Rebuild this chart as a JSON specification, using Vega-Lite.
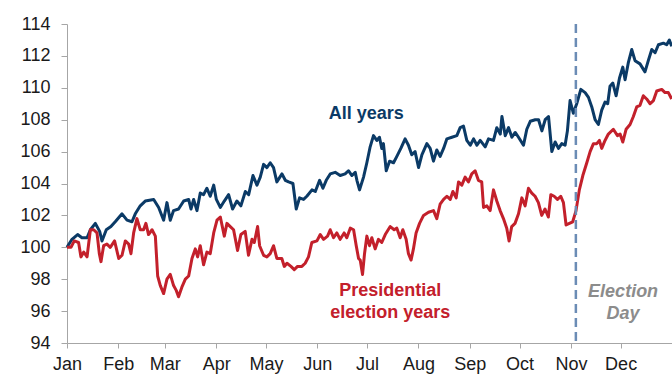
{
  "$schema": "https://vega.github.io/schema/vega-lite/v6.json",
  "width": 605,
  "height": 319,
  "autosize": {"type": "none"},
  "padding": {"left": 67, "top": 24, "right": 0, "bottom": 34},
  "background": "white",
  "config": {
    "view": {"stroke": null},
    "font": "Liberation Sans"
  },
  "datasets": {
    "allYears": [
      {"day":0,"value":100.0},{"day":3.0,"value":100.5},{"day":6.4,"value":100.8},{"day":9.0,"value":100.6},{"day":12.1,"value":100.6},{"day":14.1,"value":101.1},{"day":17.1,"value":101.5},{"day":19.7,"value":101.0},{"day":21.1,"value":100.4},{"day":23.7,"value":101.1},{"day":26.5,"value":101.3},{"day":29.1,"value":101.6},{"day":33.2,"value":102.1},{"day":36.2,"value":101.7},{"day":39.2,"value":101.6},{"day":41.2,"value":102.1},{"day":44.2,"value":102.6},{"day":47.2,"value":102.9},{"day":52.3,"value":103.0},{"day":55.3,"value":102.5},{"day":58.3,"value":101.7},{"day":60.3,"value":102.8},{"day":62.3,"value":101.7},{"day":64.3,"value":102.3},{"day":67.3,"value":102.4},{"day":70.4,"value":102.9},{"day":73.4,"value":103.0},{"day":74.8,"value":102.4},{"day":76.4,"value":103.0},{"day":78.4,"value":102.3},{"day":80.4,"value":103.4},{"day":82.4,"value":103.3},{"day":84.4,"value":103.7},{"day":86.4,"value":103.2},{"day":88.5,"value":103.9},{"day":90.1,"value":103.0},{"day":92.5,"value":102.5},{"day":94.9,"value":102.9},{"day":97.5,"value":103.3},{"day":99.9,"value":102.4},{"day":102.5,"value":102.9},{"day":104.9,"value":102.6},{"day":107.6,"value":103.5},{"day":109.6,"value":103.3},{"day":112.2,"value":104.5},{"day":114.6,"value":103.9},{"day":116.6,"value":104.4},{"day":118.6,"value":105.2},{"day":120.6,"value":105.0},{"day":122.6,"value":105.3},{"day":124.6,"value":105.0},{"day":126.6,"value":104.1},{"day":129.7,"value":104.6},{"day":131.7,"value":104.2},{"day":133.7,"value":104.1},{"day":136.3,"value":104.0},{"day":138.3,"value":102.4},{"day":140.3,"value":103.1},{"day":142.7,"value":103.0},{"day":144.7,"value":103.2},{"day":147.8,"value":103.6},{"day":149.8,"value":103.5},{"day":152.4,"value":104.2},{"day":154.4,"value":103.7},{"day":156.4,"value":104.2},{"day":158.8,"value":104.6},{"day":161.8,"value":104.7},{"day":164.8,"value":104.5},{"day":167.8,"value":104.6},{"day":169.8,"value":104.8},{"day":171.9,"value":104.5},{"day":173.9,"value":104.7},{"day":174.9,"value":104.2},{"day":176.5,"value":103.6},{"day":178.9,"value":104.4},{"day":180.9,"value":105.3},{"day":182.9,"value":106.3},{"day":184.9,"value":107.0},{"day":186.9,"value":106.7},{"day":188.5,"value":106.9},{"day":189.9,"value":106.2},{"day":190.9,"value":106.5},{"day":192.6,"value":104.8},{"day":194.6,"value":105.4},{"day":197.0,"value":105.3},{"day":199.0,"value":105.7},{"day":201.4,"value":106.2},{"day":204.0,"value":106.8},{"day":206.0,"value":106.4},{"day":208.0,"value":105.8},{"day":210.0,"value":106.0},{"day":212.1,"value":105.0},{"day":214.1,"value":105.8},{"day":217.1,"value":106.5},{"day":219.1,"value":106.2},{"day":221.1,"value":105.4},{"day":223.1,"value":106.1},{"day":225.1,"value":105.7},{"day":227.2,"value":106.2},{"day":229.2,"value":106.8},{"day":232.2,"value":106.9},{"day":235.2,"value":107.0},{"day":237.2,"value":107.5},{"day":239.2,"value":107.6},{"day":241.2,"value":106.7},{"day":243.3,"value":106.4},{"day":245.3,"value":106.8},{"day":247.3,"value":106.4},{"day":249.3,"value":106.7},{"day":252.3,"value":106.3},{"day":254.3,"value":106.8},{"day":257.3,"value":106.7},{"day":259.3,"value":107.5},{"day":261.4,"value":107.1},{"day":262.4,"value":108.2},{"day":264.4,"value":107.0},{"day":266.4,"value":107.5},{"day":268.4,"value":106.9},{"day":270.4,"value":107.2},{"day":272.4,"value":106.9},{"day":275.4,"value":106.4},{"day":277.4,"value":107.4},{"day":279.5,"value":107.9},{"day":282.5,"value":108.0},{"day":284.5,"value":108.0},{"day":286.5,"value":107.3},{"day":288.5,"value":108.0},{"day":290.5,"value":108.2},{"day":292.5,"value":106.0},{"day":294.5,"value":106.6},{"day":296.5,"value":106.2},{"day":298.5,"value":106.5},{"day":300.5,"value":106.4},{"day":301.9,"value":107.3},{"day":303.5,"value":109.2},{"day":305.5,"value":108.4},{"day":307.5,"value":109.0},{"day":310.0,"value":109.9},{"day":312.6,"value":109.7},{"day":314.6,"value":109.4},{"day":316.6,"value":108.8},{"day":318.6,"value":108.0},{"day":320.6,"value":107.7},{"day":322.6,"value":108.6},{"day":324.6,"value":109.1},{"day":326.2,"value":109.0},{"day":327.6,"value":110.1},{"day":329.3,"value":110.3},{"day":331.3,"value":109.5},{"day":333.3,"value":110.6},{"day":335.3,"value":111.3},{"day":336.7,"value":110.5},{"day":338.7,"value":111.6},{"day":340.7,"value":112.4},{"day":342.7,"value":111.7},{"day":345.7,"value":111.5},{"day":348.7,"value":111.0},{"day":350.7,"value":111.7},{"day":352.8,"value":112.4},{"day":354.8,"value":112.2},{"day":356.8,"value":112.7},{"day":359.8,"value":112.8},{"day":361.8,"value":112.7},{"day":363.4,"value":113.0},{"day":364.8,"value":112.6}
    ],
    "electionYears": [
      {"day":0,"value":100.0},{"day":2.4,"value":100.0},{"day":4.4,"value":100.4},{"day":7.0,"value":100.3},{"day":8.4,"value":99.4},{"day":10.1,"value":99.7},{"day":12.1,"value":99.4},{"day":14.1,"value":101.1},{"day":16.1,"value":101.1},{"day":18.1,"value":100.9},{"day":19.5,"value":99.6},{"day":20.5,"value":99.1},{"day":22.1,"value":100.1},{"day":24.1,"value":100.2},{"day":26.1,"value":100.0},{"day":28.7,"value":100.4},{"day":31.2,"value":99.3},{"day":33.2,"value":99.5},{"day":35.2,"value":100.4},{"day":37.2,"value":100.2},{"day":38.6,"value":99.6},{"day":40.2,"value":100.9},{"day":42.2,"value":101.8},{"day":44.2,"value":101.1},{"day":46.2,"value":101.1},{"day":47.6,"value":101.5},{"day":49.2,"value":100.8},{"day":51.3,"value":101.1},{"day":53.3,"value":100.7},{"day":54.7,"value":98.2},{"day":56.3,"value":97.6},{"day":58.3,"value":97.1},{"day":60.3,"value":98.0},{"day":62.3,"value":98.3},{"day":64.3,"value":97.6},{"day":65.9,"value":97.3},{"day":67.3,"value":96.9},{"day":69.3,"value":97.5},{"day":71.4,"value":98.0},{"day":73.4,"value":98.2},{"day":75.4,"value":99.3},{"day":77.4,"value":99.9},{"day":78.8,"value":99.4},{"day":80.4,"value":100.1},{"day":82.4,"value":98.9},{"day":84.4,"value":99.7},{"day":86.4,"value":99.6},{"day":88.5,"value":100.9},{"day":90.5,"value":101.7},{"day":92.5,"value":101.9},{"day":94.9,"value":100.7},{"day":96.5,"value":101.5},{"day":98.5,"value":101.3},{"day":100.5,"value":101.1},{"day":102.9,"value":99.8},{"day":104.9,"value":100.8},{"day":107.5,"value":101.0},{"day":109.5,"value":99.5},{"day":111.6,"value":100.5},{"day":113.0,"value":100.3},{"day":115.0,"value":101.3},{"day":116.2,"value":100.1},{"day":118.6,"value":99.5},{"day":120.6,"value":99.4},{"day":122.6,"value":99.6},{"day":124.6,"value":100.1},{"day":126.6,"value":99.3},{"day":129.6,"value":99.3},{"day":131.1,"value":98.8},{"day":132.7,"value":99.0},{"day":135.1,"value":98.8},{"day":137.1,"value":98.6},{"day":139.1,"value":98.8},{"day":141.7,"value":98.8},{"day":143.7,"value":99.0},{"day":145.7,"value":99.4},{"day":147.7,"value":100.3},{"day":150.8,"value":100.4},{"day":152.8,"value":100.8},{"day":154.8,"value":100.5},{"day":157.2,"value":100.7},{"day":158.8,"value":101.1},{"day":160.8,"value":100.6},{"day":162.8,"value":100.9},{"day":164.8,"value":100.5},{"day":167.2,"value":100.9},{"day":168.8,"value":100.6},{"day":170.9,"value":101.2},{"day":172.9,"value":101.1},{"day":174.5,"value":100.1},{"day":175.9,"value":99.3},{"day":176.9,"value":99.2},{"day":178.3,"value":98.3},{"day":179.5,"value":99.6},{"day":180.9,"value":100.7},{"day":182.5,"value":100.1},{"day":183.9,"value":100.6},{"day":185.9,"value":99.9},{"day":187.9,"value":100.5},{"day":189.9,"value":100.3},{"day":192.0,"value":100.8},{"day":195.0,"value":101.3},{"day":197.4,"value":101.1},{"day":199.0,"value":101.2},{"day":201.0,"value":100.6},{"day":202.6,"value":101.1},{"day":204.6,"value":100.5},{"day":206.0,"value":99.6},{"day":207.6,"value":99.2},{"day":209.0,"value":99.9},{"day":210.6,"value":100.9},{"day":212.7,"value":101.5},{"day":215.1,"value":102.0},{"day":218.1,"value":102.2},{"day":221.1,"value":102.3},{"day":223.1,"value":101.8},{"day":225.1,"value":102.7},{"day":227.2,"value":103.0},{"day":229.2,"value":103.2},{"day":231.2,"value":103.0},{"day":232.8,"value":103.5},{"day":234.8,"value":103.1},{"day":236.2,"value":104.1},{"day":238.2,"value":103.9},{"day":240.2,"value":104.4},{"day":242.2,"value":104.1},{"day":244.2,"value":104.6},{"day":246.2,"value":104.8},{"day":248.2,"value":104.2},{"day":250.2,"value":104.1},{"day":251.3,"value":102.5},{"day":253.3,"value":102.6},{"day":255.3,"value":102.3},{"day":257.3,"value":103.6},{"day":259.3,"value":102.9},{"day":261.3,"value":102.3},{"day":263.3,"value":101.8},{"day":265.3,"value":101.2},{"day":266.7,"value":100.4},{"day":268.3,"value":101.3},{"day":270.3,"value":101.5},{"day":272.4,"value":102.1},{"day":274.4,"value":103.1},{"day":276.4,"value":102.6},{"day":278.4,"value":103.7},{"day":280.4,"value":103.4},{"day":282.4,"value":103.2},{"day":284.4,"value":102.8},{"day":286.4,"value":102.0},{"day":288.4,"value":102.4},{"day":290.4,"value":101.9},{"day":291.9,"value":103.3},{"day":293.9,"value":103.2},{"day":295.9,"value":103.0},{"day":297.9,"value":103.2},{"day":299.5,"value":102.8},{"day":301.1,"value":101.4},{"day":303.1,"value":101.5},{"day":305.1,"value":101.6},{"day":307.1,"value":102.3},{"day":309.1,"value":103.6},{"day":311.2,"value":104.5},{"day":313.6,"value":105.3},{"day":315.6,"value":106.0},{"day":317.6,"value":106.5},{"day":319.6,"value":106.5},{"day":321.2,"value":106.7},{"day":322.6,"value":106.2},{"day":324.6,"value":106.7},{"day":326.6,"value":107.1},{"day":329.6,"value":107.4},{"day":332.1,"value":107.0},{"day":333.7,"value":107.1},{"day":335.3,"value":106.6},{"day":337.3,"value":107.4},{"day":339.7,"value":107.7},{"day":341.7,"value":108.2},{"day":343.7,"value":108.8},{"day":345.7,"value":108.9},{"day":347.7,"value":109.5},{"day":349.7,"value":109.3},{"day":351.8,"value":109.0},{"day":353.8,"value":109.2},{"day":355.8,"value":109.8},{"day":358.8,"value":109.9},{"day":360.8,"value":109.7},{"day":362.8,"value":109.7},{"day":364.8,"value":109.3}
    ],
    "electionDay": [{"day": 307, "value": 114, "value2": 94}],
    "navyLabel": [{"day": 180.5, "value": 108.03, "label": "All years"}],
    "redLabel": [
      {"day": 195, "value": 96.92, "label": "Presidential"},
      {"day": 195, "value": 95.58, "label": "election years"}
    ],
    "grayLabel": [
      {"day": 335.5, "value": 96.86, "label": "Election"},
      {"day": 335.5, "value": 95.52, "label": "Day"}
    ]
  },
  "encoding": {
    "x": {"field": "day", "type": "quantitative", "scale": {"domain": [0, 365], "nice": false, "zero": false},
      "axis": {"title": null, "grid": false, "values": [0,31,59,90,120,151,181,212,243,273,304,334],
        "labelExpr": "['Jan','Feb','Mar','Apr','May','Jun','Jul','Aug','Sep','Oct','Nov','Dec'][indexof([0,31,59,90,120,151,181,212,243,273,304,334], datum.value)]",
        "labelFontSize": 18, "labelFont": "Liberation Sans", "labelColor": "#1a1a1a", "labelPadding": 7, "labelOverlap": false, "labelFlush": false,
        "tickSize": 5, "tickColor": "#a6a6a6", "domainColor": "#a6a6a6"}},
    "y": {"field": "value", "type": "quantitative", "scale": {"domain": [94, 114], "nice": false, "zero": false},
      "axis": {"title": null, "grid": false, "values": [94,96,98,100,102,104,106,108,110,112,114],
        "labelFontSize": 18, "labelFont": "Liberation Sans", "labelColor": "#1a1a1a", "labelPadding": 11, "labelOverlap": false, "labelSeparation": -8, "labelFlush": false, "labelBound": false,
        "tickSize": 6, "tickColor": "#a6a6a6", "domainColor": "#a6a6a6"}}
  },
  "layer": [
    {
      "data": {"name": "allYears"},
      "mark": {"type": "line", "color": "#0b3a66", "strokeWidth": 3, "strokeJoin": "round"}
    },
    {
      "data": {"name": "electionYears"},
      "mark": {"type": "line", "color": "#c3202b", "strokeWidth": 3, "strokeJoin": "round"}
    },
    {
      "data": {"name": "electionDay"},
      "mark": {"type": "rule", "color": "#6b8cb5", "strokeWidth": 2.5, "strokeDash": [9, 5]},
      "encoding": {"y2": {"field": "value2"}}
    },
    {
      "data": {"name": "navyLabel"},
      "mark": {"type": "text", "font": "Liberation Sans", "fontSize": 18, "fontWeight": "bold", "color": "#0b3a66", "align": "center", "baseline": "alphabetic"},
      "encoding": {"text": {"field": "label"}}
    },
    {
      "data": {"name": "redLabel"},
      "mark": {"type": "text", "font": "Liberation Sans", "fontSize": 18, "fontWeight": "bold", "color": "#c3202b", "align": "center", "baseline": "alphabetic"},
      "encoding": {"text": {"field": "label"}}
    },
    {
      "data": {"name": "grayLabel"},
      "mark": {"type": "text", "font": "Liberation Sans", "fontSize": 18, "fontWeight": "bold", "fontStyle": "italic", "color": "#8c8c8c", "align": "center", "baseline": "alphabetic"},
      "encoding": {"text": {"field": "label"}}
    }
  ]
}
